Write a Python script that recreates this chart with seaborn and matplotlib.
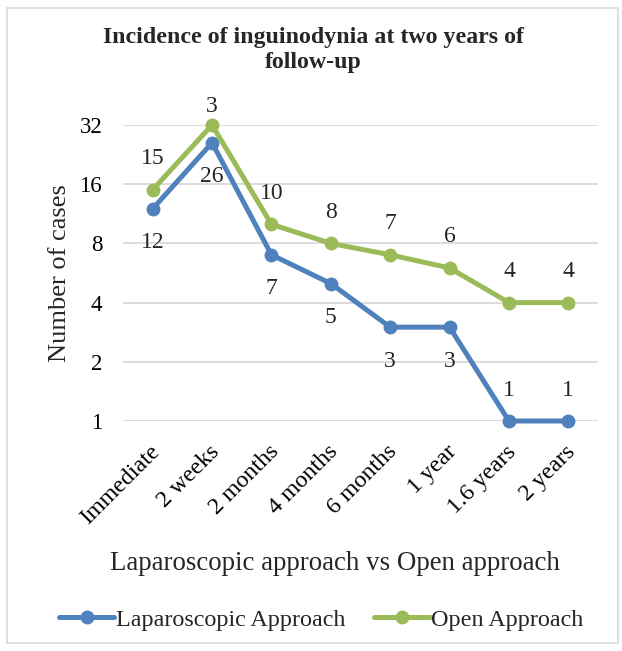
import matplotlib
matplotlib.use("Agg")
import matplotlib.pyplot as plt
import matplotlib.transforms as mtransforms
import seaborn as sns
import pandas as pd
from matplotlib.patches import Rectangle
from matplotlib.ticker import FixedLocator, FixedFormatter, NullLocator

# ---- data ----
times = ["Immediate", "2 weeks", "2 months", "4 months", "6 months", "1 year", "1.6 years", "2 years"]
lap_cases = [12, 26, 7, 5, 3, 3, 1, 1]
open_cases = [15, 32, 10, 8, 7, 6, 4, 4]
lap_labels = ["12", "26", "7", "5", "3", "3", "1", "1"]
open_labels = ["15", "3", "10", "8", "7", "6", "4", "4"]
y_ticks = [1, 2, 4, 8, 16, 32]
series_names = ["Laparoscopic Approach", "Open Approach"]

df = pd.DataFrame({
    "time": times * 2,
    "cases": lap_cases + open_cases,
    "approach": [series_names[0]] * len(times) + [series_names[1]] * len(times),
})

sns.set_theme(style="white")
plt.rcParams["font.family"] = ["Liberation Serif", "DejaVu Serif"]

W, H = 622, 651
fig = plt.figure(figsize=(W / 100, H / 100), dpi=100)
left, right, top, bottom = 123, 598, 125, 421
ax = fig.add_axes([left / W, 1 - bottom / H, (right - left) / W, (bottom - top) / H])

blue = "#4F81BD"
green = "#9BBB59"
sns.lineplot(data=df, x="time", y="cases", hue="approach", palette=[blue, green],
             marker="o", markersize=10, markeredgewidth=0, linewidth=3.6,
             ax=ax, clip_on=False, sort=False, legend=True)

ax.set_yscale("log", base=2)
ax.set_ylim(1, 32)
ax.set_xlim(-0.5, len(times) - 0.5)
ax.yaxis.set_major_locator(FixedLocator(y_ticks))
ax.yaxis.set_major_formatter(FixedFormatter([str(v) for v in y_ticks]))
ax.yaxis.set_minor_locator(NullLocator())
ax.grid(axis="y", color="#D9D9D9", linewidth=1.3)
ax.set_axisbelow(True)
for s in ax.spines.values():
    s.set_visible(False)
ax.tick_params(axis="both", length=0, colors="black")
ax.tick_params(axis="y", pad=15, labelsize=16.5)
ax.set_xticks(range(len(times)))
ax.set_xticklabels(times, rotation=45, ha="right", rotation_mode="anchor", va="center")
ax.tick_params(axis="x", pad=20, labelsize=17.3)
shift = mtransforms.ScaledTranslation(4 / 100, 0, fig.dpi_scale_trans)
for lab in ax.get_xticklabels():
    lab.set_transform(lab.get_transform() + shift)

ax.set_ylabel("Number of cases", fontsize=19, labelpad=6)
ax.set_xlabel("")
fig.text(335 / W, 1 - 563 / H, "Laparoscopic approach vs Open approach",
         ha="center", va="center", fontsize=19.4)

# data labels (pixel offsets converted to points)
px = 0.72
for i, (v, lab) in enumerate(zip(lap_cases, lap_labels)):
    off = 31 if i >= 6 else -34
    ax.annotate(lab, (i, v), xytext=(0, off * px), textcoords="offset points",
                ha="center", va="center", fontsize=17, annotation_clip=False)
for i, (v, lab) in enumerate(zip(open_cases, open_labels)):
    off = 18 if i == 1 else 31
    ax.annotate(lab, (i, v), xytext=(0, off * px), textcoords="offset points",
                ha="center", va="center", fontsize=17, annotation_clip=False)

fig.text(313 / W, 1 - 50 / H, "Incidence of inguinodynia at two years of\nfollow-up",
         ha="center", va="center", fontsize=17.2, fontweight="bold", linespacing=1.2)

leg = ax.legend(loc="center", bbox_to_anchor=(321 / W, 1 - 620 / H), bbox_transform=fig.transFigure,
                ncol=2, frameon=False, fontsize=17.4, handlelength=2.3, handletextpad=0.05,
                columnspacing=1.2, borderpad=0, borderaxespad=0)

fig.patches.append(Rectangle((7 / W, 1 - 643 / H), (618 - 7) / W, (643 - 8) / H,
                             transform=fig.transFigure, fill=False, edgecolor="#D9D9D9",
                             linewidth=1.2))

fig.savefig("out.png", dpi=100)
